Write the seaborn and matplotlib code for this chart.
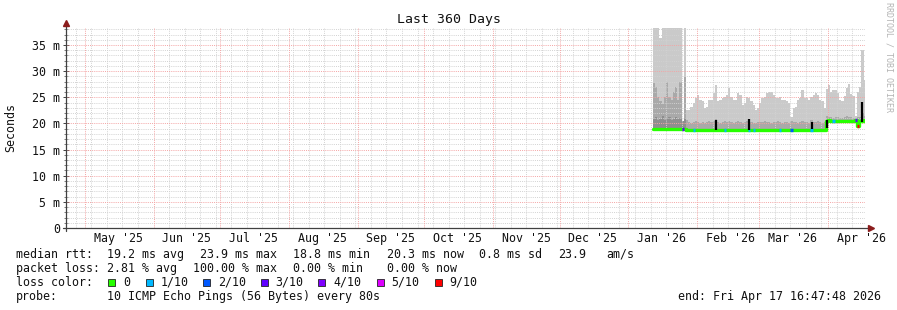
import numpy as np
import pandas as pd
import matplotlib
matplotlib.use("Agg")
import matplotlib.pyplot as plt
import matplotlib.dates as mdates
from matplotlib.patches import Rectangle
import seaborn as sns

sns.set_theme(style="white")
plt.rcParams['font.family'] = ['DejaVu Sans Mono', 'DejaVu Sans']

nan = np.nan

# ---------------- data (milliseconds, one value per day) ----------------
axis_start = "2025-04-22 16:47:48"
axis_end = "2026-04-17 16:47:48"
data_start = "2026-01-12 00:00"

smoke_top = [
    42, 42, 42, 36.3, 42, 42, 42, 42, 42, 42, 42, 42, 42, nan, 42,
    22.6, 22.6, 23.2, 23.9, 24.9, 25.4, 24.5, 24.2, 22.9, 23.2,
    24.5, 24.5, 25.8, 27.3, 24.2, 24.5, 24.9, 25.1, 25.4, 26.8,
    25.1, 24.5, 24.5, 25.8, 25.4, 23.5, 23.9, 25.1, 24.9, 24.2,
    23.5, 22.6, 22.9, 23.9, 24.9, 25.1, 25.8, 26.1, 26.1, 25.4,
    24.9, 24.9, 25.1, 24.5, 24.5, 24.2, 23.9, 21.3, 22.9, 23.2,
    24.5, 24.9, 26.4, 24.9, 24.9, 24.5, 25.1, 25.4, 25.8, 25.4,
    24.5, 24.2, 22.9,
    26.5, 27.3, 26.1, 26.3, 26.4, 25.8, 24.5, 24.2, 25.2, 26.8,
    27.5, 25.6, 25.2, 21.5, 26.0, 27.0, 34.0, 28.3,
]
smoke_mid = [
    27.7, 27.0, 25.0, 24.2, 23.8, 25.1, 28.0, 25.0, 24.5, 26.0, 27.0, 24.5, 28.0, nan, 28.9,
    20.6, 20.3, 20.1, 20.2, 20.4, 20.2, 20.0, 20.3, 20.1, 20.2,
    20.5, 20.3, 20.4, 20.9, 20.3, 20.1, 20.2, 20.4, 20.2, 20.5,
    20.2, 20.0, 20.3, 20.4, 20.2, 20.1, 20.2, 20.5, 20.8, 20.3,
    20.1, 20.0, 20.2, 20.3, 20.2, 20.4, 20.3, 20.2, 20.1, 20.3,
    20.2, 20.4, 20.2, 20.1, 20.3, 20.2, 20.0, 20.4, 20.2, 20.3,
    20.1, 20.2, 20.4, 20.3, 20.2, 20.1, 20.7, 20.3, 20.2, 20.4,
    20.2, 20.1, 20.3,
    21.4, 21.2, 21.3, 21.1, 21.2, 21.3, 21.0, 21.1, 21.2, 21.4,
    21.3, 21.2, 21.1, 20.9, 21.2, 21.3, 22.0, 21.5,
]
# darkest smoke band, only present in the first 15 days
smoke_core = [20.8, 21.2, 20.6, 20.9, 21.4, 20.7, 21.0, 21.3, 20.6, 20.9, 21.2, 20.8, 21.0, 20.5, 21.1]
smoke_floor = [
    18.5, 18.5, 18.5, 18.5, 18.5, 18.5, 18.5, 18.5, 18.5, 18.5, 18.5, 18.5, 18.5, 18.5, 18.5,
    18.4, 18.4, 18.4, 18.4, 18.4, 18.4, 18.4, 18.4, 18.4, 18.4,
    18.4, 18.4, 18.4, 18.4, 18.4, 18.4, 18.4, 18.4, 18.4, 18.4,
    18.4, 18.4, 18.4, 18.4, 18.4, 18.4, 18.4, 18.4, 18.4, 18.4,
    18.4, 18.4, 18.4, 18.4, 18.4, 18.4, 18.4, 18.4, 18.4, 18.4,
    18.4, 18.4, 18.4, 18.4, 18.4, 18.4, 18.4, 18.4, 18.4, 18.4,
    18.4, 18.4, 18.4, 18.4, 18.4, 18.4, 18.4, 18.4, 18.4, 18.4,
    18.4, 18.4, 18.4,
    20.1, 20.1, 20.1, 20.1, 20.1, 20.1, 20.1, 20.1, 20.1, 20.1,
    20.1, 20.1, 20.1, 20.1, 19.3, 20.1, 20.1, 20.1,
]
median_rtt = [
    18.95, 18.95, 18.95, 19.0, 18.95, 18.95, 18.95, 19.0, 18.95, 18.95, 18.95, 18.95, 19.0, 18.95, 19.0,
    18.75, 18.75, 18.75, 18.75, 18.7, 18.75, 18.75, 18.75, 18.75, 18.75,
    18.75, 18.7, 18.75, 18.75, 18.75, 18.75, 18.7, 18.75, 18.75, 18.75,
    18.75, 18.75, 18.75, 18.75, 18.7, 18.75, 18.75, 18.75, 18.75, 18.75,
    18.75, 18.75, 18.7, 18.75, 18.75, 18.75, 18.75, 18.75, 18.75, 18.7,
    18.75, 18.75, 18.75, 18.75, 18.75, 18.75, 18.7, 18.75, 18.75, 18.75,
    18.75, 18.75, 18.75, 18.75, 18.7, 18.75, 18.75, 18.75, 18.75, 18.75,
    18.75, 18.75, 18.75,
    20.55, 20.6, 20.55, 20.5, 20.55, 20.5, 20.55, 20.5, 20.55, 20.5,
    20.55, 20.5, 20.55, 20.6, 19.6, 20.5, 20.55, 20.6,
]
loss_tenths = [
    0, 0, 0, 0, 0, 0, 0, 0, 0, 0, 0, 0, 0, 3, 0,
    0, 0, 0, 1, 0, 0, 0, 0, 0, 0,
    0, 0, 0, 0, 0, 0, 0, 1, 0, 0,
    0, 0, 0, 0, 0, 0, 0, 0, 1, 0,
    1, 0, 0, 0, 0, 0, 0, 0, 0, 0,
    0, 0, 1, 0, 0, 0, 0, 2, 0, 0,
    0, 0, 0, 0, 0, 0, 1, 0, 0, 0,
    0, 0, 0,
    0, 0, 0, 1, 0, 0, 0, 0, 0, 0,
    0, 0, 0, 3, 9, 0, 0, 0,
]

spike_times = ["2026-02-09 08:00", "2026-02-24 05:00", "2026-03-24 14:00",
               "2026-03-31 10:00", "2026-04-16 07:00"]
spike_low = [18.7, 18.7, 18.9, 19.1, 20.3]
spike_high = [20.7, 20.9, 20.3, 20.7, 24.1]

loss_levels = [0, 1, 2, 3, 4, 5, 9]
loss_names = ["0", "1/10", "2/10", "3/10", "4/10", "5/10", "9/10"]
loss_colors = ["#26ff00", "#00b8ff", "#0059ff", "#5e00ff", "#7e00ff", "#dd00ff", "#ff0000"]

y_ticks = [0, 5, 10, 15, 20, 25, 30, 35]
y_tick_labels = ["0", "5 m", "10 m", "15 m", "20 m", "25 m", "30 m", "35 m"]
month_labels = ["May '25", "Jun '25", "Jul '25", "Aug '25", "Sep '25", "Oct '25",
                "Nov '25", "Dec '25", "Jan '26", "Feb '26", "Mar '26", "Apr '26"]

legend_rtt = ["median rtt:", "19.2 ms avg", "23.9 ms max", "18.8 ms min",
              "20.3 ms now", "0.8 ms sd", "23.9", "am/s"]
legend_loss = ["packet loss:", "2.81 % avg", "100.00 % max", "0.00 % min", "0.00 % now"]
probe_text = "10 ICMP Echo Pings (56 Bytes) every 80s"
end_text = "end: Fri Apr 17 16:47:48 2026"

# ---------------- figure ----------------
W, H = 897, 310
fig = plt.figure(figsize=(W / 100, H / 100), dpi=100)
fig.patch.set_facecolor("white")
ax = fig.add_axes([66.3 / W, 82 / H, 798.8 / W, 200 / H])
ax.set_facecolor("white")

t0 = mdates.date2num(pd.Timestamp(axis_start))
t1 = mdates.date2num(pd.Timestamp(axis_end))
edges = mdates.date2num(pd.date_range(data_start, periods=len(smoke_top) + 1, freq="D"))


def step_xy(vals, n=None):
    vals = np.asarray(vals, dtype=float)
    n = len(vals)
    xs = np.column_stack([edges[:n], edges[1:n + 1]]).ravel()
    return xs, np.repeat(vals, 2)


xs, top_s = step_xy(smoke_top)
_, mid_s = step_xy(smoke_mid)
_, floor_s = step_xy(smoke_floor)
xc, core_s = step_xy(smoke_core)
floor_c = floor_s[:len(xc)]

ax.fill_between(xs, floor_s, top_s, color="#cacaca", lw=0, zorder=1.0)
ax.fill_between(xs, floor_s, mid_s, color="#a9a9a9", lw=0, zorder=1.1)
ax.fill_between(xc, floor_c, core_s, color="#8e8e8e", lw=0, zorder=1.2)

# grid (drawn over the smoke like rrdtool)
months = pd.date_range("2025-05-01", "2026-04-01", freq="MS")
month_nums = mdates.date2num(months)
sundays = mdates.date2num(pd.date_range("2025-04-27", "2026-04-17", freq="7D"))
dot = (0, (1, 1.2))
for s in sundays:
    if np.min(np.abs(month_nums - s)) > 0.5:
        ax.axvline(s, color="#d2d2d2", lw=0.7, ls=dot, zorder=1.5)
for m in month_nums:
    ax.axvline(m, color="#f4a4a4", lw=0.7, ls=dot, zorder=1.6)
for v in range(1, 39):
    if v % 5:
        ax.axhline(v, color="#d2d2d2", lw=0.7, ls=dot, zorder=1.5)
    else:
        ax.axhline(v, color="#f4a4a4", lw=0.7, ls=dot, zorder=1.6)

# median line coloured by loss
_, med_s = step_xy(median_rtt)
sns.lineplot(x=xs, y=med_s, color=loss_colors[0], lw=2.4, estimator=None,
             sort=False, ax=ax, zorder=3)
lc = dict(zip(loss_levels, loss_colors))
for i, (m, l) in enumerate(zip(median_rtt, loss_tenths)):
    if l > 0:
        ax.hlines(m, edges[i], edges[i + 1], color=lc[l], lw=2.4, zorder=3.2)

ax.vlines(mdates.date2num(pd.to_datetime(spike_times)), spike_low, spike_high,
          color="black", lw=1.6, zorder=4)

ax.set_xlim(t0, t1)
ax.set_ylim(0, 38.25)
ax.set_xlabel("")
ax.set_ylabel("")
for sp in ax.spines.values():
    sp.set_visible(False)

# axes lines with arrows
axc = "#404040"
ax.plot([-3 / 799, 1 + 5 / 799], [0, 0], color=axc, lw=0.9, transform=ax.transAxes,
        clip_on=False, zorder=5)
ax.plot([0, 0], [-3 / 200, 1 + 3 / 200], color=axc, lw=0.9, transform=ax.transAxes,
        clip_on=False, zorder=5)
ax.plot([1 + 6 / 799], [0], marker=">", ms=4, color="#8b1c1c", mec="#8b1c1c",
        transform=ax.transAxes, clip_on=False, zorder=6)
ax.plot([0], [1 + 5 / 200], marker="^", ms=4, color="#8b1c1c", mec="#8b1c1c",
        transform=ax.transAxes, clip_on=False, zorder=6)

# ticks
ax.set_yticks(y_ticks)
ax.set_yticklabels(y_tick_labels)
ax.set_yticks(range(0, 39), minor=True)
ax.tick_params(axis="y", which="major", direction="inout", length=4, width=0.7,
               color=axc, pad=2.5, labelsize=8.4, labelcolor="#111111", left=True)
ax.tick_params(axis="y", which="minor", direction="inout", length=3, width=0.6,
               color="#666666", left=True)
label_pos = mdates.date2num(months + pd.Timedelta(days=15))
ax.set_xticks(label_pos)
ax.set_xticklabels(month_labels)
ax.tick_params(axis="x", which="major", length=0, pad=3.2, labelsize=8.4,
               labelcolor="#111111")

# texts
fs = 8.4
fig.text(0.5, 1 - 19 / H, "Last 360 Days", fontsize=9.5, ha="center", va="center",
         color="#111111")
fig.text(11 / W, 1 - 127 / H, "Seconds", rotation=90, fontsize=fs, ha="center",
         va="center", color="#111111")
fig.text(889 / W, 1 - 57 / H, "RRDTOOL / TOBI OETIKER", rotation=270, fontsize=6.0,
         ha="center", va="center", color="#b4b4b4")

rtt_x = [16, 107.3, 200, 293.3, 386.7, 479.3, 558.3, 606.7]
for s, x in zip(legend_rtt, rtt_x):
    fig.text(x / W, 1 - 254.3 / H, s, fontsize=fs, ha="left", va="center", color="#111111")
loss_x = [16, 107.3, 193.3, 293.3, 386.7]
for s, x in zip(legend_loss, loss_x):
    fig.text(x / W, 1 - 268.3 / H, s, fontsize=fs, ha="left", va="center", color="#111111")

fig.text(16 / W, 1 - 282.3 / H, "loss color:", fontsize=fs, ha="left", va="center",
         color="#111111")
box_x = [108.3, 145.7, 203.3, 261.0, 318.3, 376.7, 435.0]
for name, col, bx in zip(loss_names, loss_colors, box_x):
    fig.add_artist(Rectangle((bx / W, 1 - (282.3 + 3.5) / H), 7 / W, 7 / H,
                             transform=fig.transFigure, facecolor=col,
                             edgecolor="#222222", lw=0.6))
    fig.text((bx + 14.7) / W, 1 - 282.3 / H, name, fontsize=fs, ha="left",
             va="center", color="#111111")

fig.text(16 / W, 1 - 296.3 / H, "probe:", fontsize=fs, ha="left", va="center", color="#111111")
fig.text(107.3 / W, 1 - 296.3 / H, probe_text, fontsize=fs, ha="left", va="center",
         color="#111111")
fig.text(881 / W, 1 - 296.3 / H, end_text, fontsize=fs, ha="right", va="center",
         color="#111111")

fig.savefig("out.png", dpi=100, facecolor="white")
